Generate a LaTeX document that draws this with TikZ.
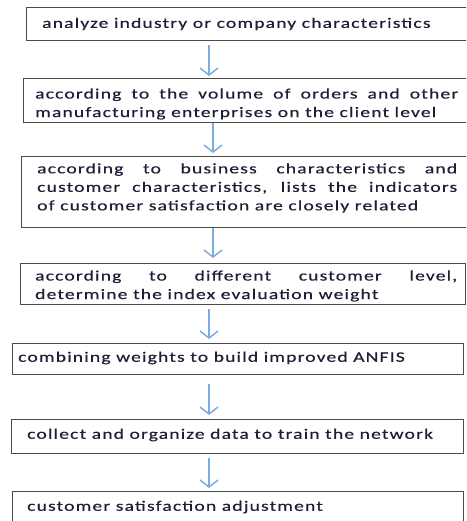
\documentclass[tikz,border=0pt]{standalone}
\usepackage{fontspec}
\setmainfont{Carlito}
\newfontfamily\boxfont[FakeStretch=1.35,LetterSpace=8,FakeBold=0.4]{Carlito}
\usetikzlibrary{arrows.meta,calc}
\definecolor{arrowblue}{RGB}{125,172,222}
\definecolor{boxline}{RGB}{75,75,75}
\definecolor{txtcol}{RGB}{30,30,55}
\begin{document}
\begin{tikzpicture}[x=1pt,y=-1pt,
  box/.style={draw=boxline, line width=1.3pt, rectangle, inner sep=0pt, anchor=north west},
  txtnode/.style={inner sep=0pt, anchor=west, text=txtcol, font=\boxfont\fontsize{14.5}{18.5}\selectfont},
  arr/.style={draw=arrowblue, line width=1.5pt, -{Straight Barb[length=7pt,width=18pt,line width=1.5pt]}}]
\clip (0,0) rectangle (466,521);
\coordinate (axa) at (209,0);
\coordinate (axb) at (213,0);
% boxes
\node[box, minimum width=446pt, minimum height=33pt] (b1) at (26,7) {};
\node[box, minimum width=449pt, minimum height=44pt] (b2) at (23,78) {};
\node[box, minimum width=452pt, minimum height=71pt] (b3) at (21,156) {};
\node[box, minimum width=445pt, minimum height=41pt] (b4) at (20,263) {};
\node[box, minimum width=451pt, minimum height=31pt] (b5) at (12,343) {};
\node[box, minimum width=452pt, minimum height=34pt] (b6) at (11,419) {};
\node[box, minimum width=451pt, minimum height=45pt] (b7) at (12,491) {};
% texts
\node[txtnode] (t1) at (42,24) {analyze industry or company characteristics};
\node[txtnode, text width=423pt, align=justify] (t2) at (35,104) {according to the volume of orders and other\linebreak manufacturing enterprises on the client level};
\node[txtnode, text width=420pt, align=justify] (t3) at (37,188) {according to business characteristics and\linebreak customer characteristics, lists the indicators\linebreak of customer satisfaction are closely related};
\node[txtnode, text width=422pt, align=justify] (t4) at (35,286) {according to different customer level,\linebreak determine the index evaluation weight};
\node[txtnode] (t5) at (18,358) {combining weights to build improved ANFIS};
\node[txtnode] (t6) at (27,435) {collect and organize data to train the network};
\node[txtnode] (t7) at (27,507) {customer satisfaction adjustment};
% arrows
\draw[arr] ($(b1.south -| axa)+(0,4)$) -- ($(b2.north -| axa)+(0,-2)$);
\draw[arr] ($(b2.south -| axb)+(0,0)$) -- ($(b3.north -| axb)+(0,-3)$);
\draw[arr] ($(b3.south -| axb)+(0,0)$) -- ($(b4.north -| axb)+(0,-5)$);
\draw[arr] ($(b4.south -| axa)+(0,4)$) -- ($(b5.north -| axa)+(0,-4)$);
\draw[arr] ($(b5.south -| axa)+(0,9)$) -- ($(b6.north -| axa)+(0,-4)$);
\draw[arr] ($(b6.south -| axa)+(0,4)$) -- ($(b7.north -| axa)+(0,-3)$);
\end{tikzpicture}
\end{document}
